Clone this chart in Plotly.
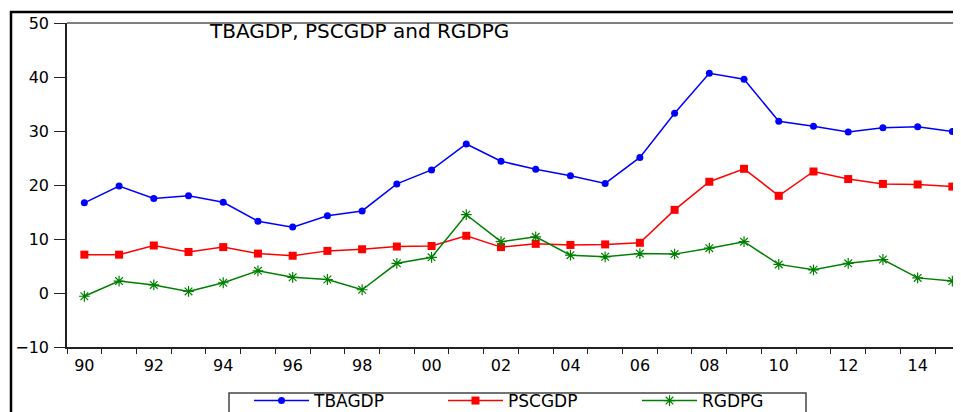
import plotly.graph_objects as go

years = list(range(1990, 2016))
tbagdp = [16.7, 19.8, 17.5, 18.0, 16.8, 13.3, 12.2, 14.3, 15.2, 20.2, 22.8, 27.6, 24.4,
          22.9, 21.7, 20.3, 25.1, 33.3, 40.7, 39.6, 31.8, 30.9, 29.8, 30.6, 30.8, 29.9]
pscgdp = [7.1, 7.1, 8.8, 7.6, 8.5, 7.3, 6.9, 7.8, 8.1, 8.6, 8.7, 10.6, 8.5,
          9.1, 8.9, 9.0, 9.3, 15.4, 20.6, 23.0, 18.0, 22.5, 21.1, 20.2, 20.1, 19.7]
rgdpg = [-0.6, 2.2, 1.5, 0.3, 1.9, 4.1, 2.9, 2.5, 0.6, 5.5, 6.6, 14.5, 9.5,
         10.4, 7.0, 6.7, 7.3, 7.2, 8.3, 9.5, 5.3, 4.3, 5.5, 6.2, 2.8, 2.2]
label_years = [y for y in years if y % 2 == 0]
label_text = ["%02d" % (y % 100) for y in label_years]
y_ticks = [-10, 0, 10, 20, 30, 40, 50]
title_text = "TBAGDP, PSCGDP and RGDPG"

FONT = "DejaVu Sans"

fig = go.Figure()
fig.add_trace(go.Scatter(x=years, y=tbagdp, name="TBAGDP", mode="lines+markers",
                         line=dict(color="#0000FF", width=1.5),
                         marker=dict(symbol="circle", size=7, color="#0000FF")))
fig.add_trace(go.Scatter(x=years, y=pscgdp, name="PSCGDP", mode="lines+markers",
                         line=dict(color="#FF0000", width=1.5),
                         marker=dict(symbol="square", size=8, color="#FF0000")))
fig.add_trace(go.Scatter(x=years, y=rgdpg, name="RGDPG", mode="lines+markers",
                         line=dict(color="#008000", width=1.5),
                         marker=dict(symbol="asterisk-open", size=9,
                                     line=dict(color="#008000", width=1.2))))

OFF = 8  # page body margin
W, H = 961 - OFF, 412 - OFF
ml, mt, mb, mr = 67 - OFF, 23 - OFF, H - (347 - OFF), 0
pw = W - ml - mr
ph = H - mt - mb
def px(xp):
    return (xp - OFF - ml) / pw
def py(yp):
    return (H - mb - (yp - OFF)) / ph

boundaries = [y - 0.5 for y in years] + [years[-1] + 0.5]

fig.update_layout(
    width=W, height=H,
    margin=dict(l=ml, r=mr, t=mt, b=mb, autoexpand=False),
    paper_bgcolor="white", plot_bgcolor="white",
    font=dict(family=FONT, size=16, color="black"),
    xaxis=dict(range=[1989.5, 1989.5 + pw / 34.72], tickmode="array",
               tickvals=label_years, ticktext=label_text,
               ticks="outside", ticklen=0, tickcolor="white",
               ticklabelstandoff=3,
               showline=True, linecolor="#222", linewidth=1.5,
               showgrid=False, zeroline=False,
               minor=dict(tickmode="array", tickvals=boundaries, ticks="outside",
                          ticklen=5, tickwidth=1.2, tickcolor="#222", showgrid=False),
               tickfont=dict(family=FONT, size=16)),
    yaxis=dict(range=[-10, 50], tickmode="array", tickvals=y_ticks,
               ticks="outside", ticklen=11, tickwidth=1.2, tickcolor="#222",
               ticklabelstandoff=2,
               showline=True, linecolor="#222", linewidth=1.5,
               showgrid=False, zeroline=False,
               tickfont=dict(family=FONT, size=16)),
    legend=dict(orientation="h", x=px(249), y=py(383), xanchor="left", yanchor="top",
                borderwidth=0, bgcolor="rgba(0,0,0,0)",
                font=dict(family=FONT, size=17), entrywidth=124, entrywidthmode="pixels",
                itemwidth=55),
    showlegend=True,
)

# Outer frame, plot top border, legend frame
fig.add_shape(type="rect", xref="paper", yref="paper",
              x0=px(11), x1=px(1000), y0=py(480), y1=py(12),
              line=dict(color="black", width=2.5), layer="above")
fig.add_shape(type="line", xref="paper", yref="paper",
              x0=0, x1=1, y0=1, y1=1, line=dict(color="black", width=1.2), layer="above")
fig.add_shape(type="rect", xref="paper", yref="paper",
              x0=px(229), x1=px(806), y0=py(440), y1=py(393),
              line=dict(color="#444", width=1.5), layer="above")

fig.add_annotation(text=title_text, xref="paper", yref="paper",
                   x=px(358.5), y=py(31), xanchor="center", yanchor="middle",
                   showarrow=False, font=dict(family=FONT, size=20, color="black"))

fig.write_html("out.html")
